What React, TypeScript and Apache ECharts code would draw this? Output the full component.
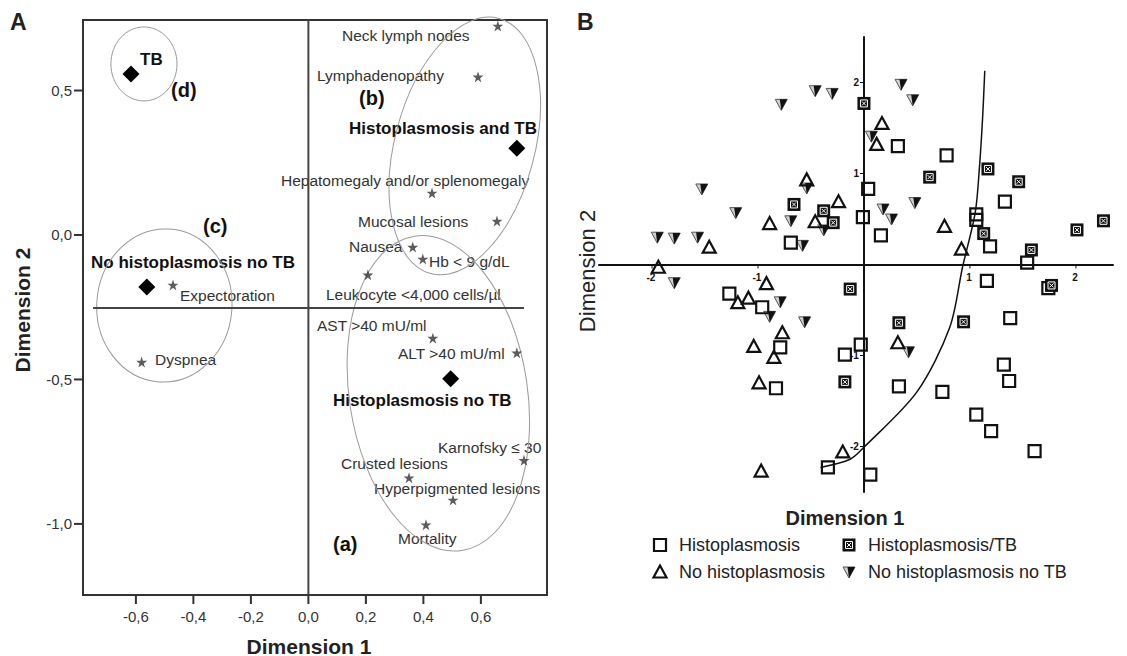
import React, { useEffect, useRef } from 'react';
import * as echarts from 'echarts';

// ---------- Panel A: correspondence analysis ----------
const groupNames = ['TB', 'No histoplasmosis no TB', 'Histoplasmosis and TB', 'Histoplasmosis no TB'];
const groupDim1 = [-0.617, -0.562, 0.725, 0.495];
const groupDim2 = [0.557, -0.18, 0.3, -0.498];

const varNames = [
  'Neck lymph nodes', 'Lymphadenopathy', 'Hepatomegaly and/or splenomegaly', 'Mucosal lesions',
  'Nausea', 'Hb < 9 g/dL', 'Leukocyte <4,000 cells/µl', 'Expectoration', 'Dyspnea',
  'AST >40 mU/ml', 'ALT >40 mU/ml', 'Karnofsky ≤ 30', 'Crusted lesions', 'Hyperpigmented lesions', 'Mortality',
];
const varDim1 = [0.659, 0.59, 0.43, 0.656, 0.363, 0.398, 0.207, -0.471, -0.58, 0.433, 0.725, 0.75, 0.35, 0.503, 0.409];
const varDim2 = [0.723, 0.547, 0.145, 0.048, -0.042, -0.083, -0.138, -0.173, -0.44, -0.357, -0.408, -0.78, -0.84, -0.917, -1.003];

const ticksAX = [-0.6, -0.4, -0.2, 0, 0.2, 0.4, 0.6];
const ticksAY = [-1, -0.5, 0, 0.5];
const rangeAX = [-0.784, 0.83];
const rangeAY = [-1.246, 0.744];

// reference lines of panel A
const refH = { y: -0.253, from: -0.749, to: 0.75 };

// cluster ellipses (a), (b), (c), (d)
const ellCx = [0.452, 0.544, -0.501, -0.572];
const ellCy = [-0.548, 0.308, -0.244, 0.592];
const ellRx = [0.31, 0.243, 0.235, 0.115];
const ellRy = [0.55, 0.457, 0.265, 0.128];
const ellRot = [8.5, -15, -4, 0];

// ---------- Panel B: patients ----------
const histoX = [-0.69, -0.01, 0.32, 0.78, 0.04, 1.33, 1.06, 1.06, 0.16, 1.19, 1.54, -1.27, -0.96, -0.79, -0.03, -0.18, -0.83, -0.34, 1.16, 1.74, 1.38, 0.33, 0.74, 1.32, 1.37, 1.06, 1.2, 1.61, 0.06];
const histoY = [0.24, 0.52, 1.3, 1.2, 0.83, 0.69, 0.55, 0.49, 0.32, 0.2, 0.02, -0.32, -0.47, -0.91, -0.88, -0.99, -1.36, -2.23, -0.18, -0.26, -0.59, -1.34, -1.4, -1.1, -1.28, -1.65, -1.83, -2.05, -2.31];

const histoTBX = [-0.66, -0.38, -0.29, 0.0, 0.62, 1.17, 1.46, 1.13, 2.01, 2.26, 1.58, -0.13, -0.18, 1.77, 0.33, 0.94];
const histoTBY = [0.66, 0.59, 0.46, 1.77, 0.96, 1.05, 0.91, 0.34, 0.38, 0.48, 0.16, -0.27, -1.29, -0.23, -0.64, -0.63];

const noHistoX = [-1.46, -1.94, -0.54, -0.24, -0.89, -0.46, 0.17, 0.12, 0.76, 0.92, -0.92, -1.19, -1.09, -0.77, -1.04, -0.85, -0.99, -0.2, -0.97, 0.32];
const noHistoY = [0.19, -0.03, 0.93, 0.69, 0.45, 0.47, 1.55, 1.32, 0.42, 0.17, -0.21, -0.42, -0.37, -0.75, -0.9, -1.02, -1.3, -2.06, -2.27, -0.86];

const noHistoNoTBX = [-0.78, -0.46, -0.3, -1.53, -1.21, -1.95, -1.79, -1.57, -0.54, -0.69, -0.38, -0.58, 0.35, 0.46, 0.07, 0.18, 0.26, 0.48, -1.79, -0.79, -0.89, -0.56, 0.42];
const noHistoNoTBY = [1.76, 1.91, 1.88, 0.83, 0.57, 0.3, 0.29, 0.3, 0.84, 0.48, 0.38, 0.21, 1.98, 1.81, 1.41, 0.61, 0.5, 0.68, -0.2, -0.41, -0.57, -0.63, -0.96];

const curveX = [-0.41, -0.13, -0.01, 0.5, 0.81, 0.93, 1.05, 1.09, 1.12, 1.14];
const curveY = [-2.23, -2.14, -2.02, -1.4, -0.69, -0.03, 0.57, 1.07, 1.62, 2.13];

const ticksB = [-2, -1, 1, 2];
const rangeBX = [-2.5, 2.35];
const rangeBY = [-2.5, 2.5];

const legendB = [
  { kind: 'sq', text: 'Histoplasmosis' },
  { kind: 'sqx', text: 'Histoplasmosis/TB' },
  { kind: 'tri', text: 'No histoplasmosis' },
  { kind: 'inv', text: 'No histoplasmosis no TB' },
];

const FONT = '"Liberation Sans", Arial, Helvetica, sans-serif';
const STAR = 'path://M50,0L61.2,34.5L97.6,34.5L68.2,55.9L79.4,90.5L50,69.1L20.6,90.5L31.8,55.9L2.4,34.5L38.8,34.5Z';

// label layout for panel A (pixel anchors: left x, middle y)
const labelsA: { t: string; x: number; y: number; w: 'n' | 'b' | 'L' }[] = [
  { t: 'TB', x: 140, y: 59, w: 'b' },
  { t: '(d)', x: 171, y: 90, w: 'L' },
  { t: '(c)', x: 203, y: 226, w: 'L' },
  { t: 'No histoplasmosis no TB', x: 91, y: 262, w: 'b' },
  { t: 'Expectoration', x: 180, y: 295, w: 'n' },
  { t: 'Dyspnea', x: 155, y: 359, w: 'n' },
  { t: 'Neck lymph nodes', x: 342, y: 35, w: 'n' },
  { t: 'Lymphadenopathy', x: 317, y: 75, w: 'n' },
  { t: '(b)', x: 359, y: 98, w: 'L' },
  { t: 'Histoplasmosis and TB', x: 349, y: 128, w: 'b' },
  { t: 'Hepatomegaly and/or splenomegaly', x: 281, y: 180, w: 'n' },
  { t: 'Mucosal lesions', x: 358, y: 221, w: 'n' },
  { t: 'Nausea', x: 349, y: 246, w: 'n' },
  { t: 'Hb < 9 g/dL', x: 429, y: 261, w: 'n' },
  { t: 'Leukocyte <4,000 cells/µl', x: 326, y: 294, w: 'n' },
  { t: 'AST >40 mU/ml', x: 317, y: 325, w: 'n' },
  { t: 'ALT >40 mU/ml', x: 398, y: 353, w: 'n' },
  { t: 'Histoplasmosis no TB', x: 333, y: 400, w: 'b' },
  { t: 'Karnofsky ≤ 30', x: 438, y: 447, w: 'n' },
  { t: 'Crusted lesions', x: 341, y: 463, w: 'n' },
  { t: 'Hyperpigmented lesions', x: 374, y: 488, w: 'n' },
  { t: 'Mortality', x: 398, y: 538, w: 'n' },
  { t: '(a)', x: 333, y: 544, w: 'L' },
];

function marker(kind: string, x: number, y: number): any {
  if (kind === 'sq') {
    return { type: 'rect', shape: { x: x - 6, y: y - 6, width: 12, height: 12 }, style: { fill: 'none', stroke: '#111', lineWidth: 2.2 } };
  }
  if (kind === 'sqx') {
    return {
      type: 'group',
      children: [
        { type: 'rect', shape: { x: x - 6.5, y: y - 6.5, width: 13, height: 13 }, style: { fill: '#111' } },
        { type: 'rect', shape: { x: x - 3.5, y: y - 3.5, width: 7, height: 7 }, style: { fill: 'none', stroke: '#fff', lineWidth: 1 } },
        { type: 'line', shape: { x1: x - 2, y1: y - 2, x2: x + 2, y2: y + 2 }, style: { stroke: '#fff', lineWidth: 1 } },
        { type: 'line', shape: { x1: x + 2, y1: y - 2, x2: x - 2, y2: y + 2 }, style: { stroke: '#fff', lineWidth: 1 } },
      ],
    };
  }
  if (kind === 'tri') {
    return {
      type: 'polygon',
      shape: { points: [[x, y - 6.5], [x + 6.5, y + 5.5], [x - 6.5, y + 5.5]] },
      style: { fill: 'none', stroke: '#111', lineWidth: 2.2 },
    };
  }
  return {
    type: 'group',
    children: [
      { type: 'polygon', shape: { points: [[x - 6, y - 5], [x + 6, y - 5], [x, y + 6]] }, style: { fill: '#d0d0d0', stroke: '#555', lineWidth: 1 } },
      { type: 'polygon', shape: { points: [[x - 1.5, y - 5], [x + 6, y - 5], [x, y + 6]] }, style: { fill: '#111' } },
    ],
  };
}

function markerSeries(kind: string, xs: number[], ys: number[]) {
  return {
    type: 'custom',
    coordinateSystem: 'cartesian2d',
    xAxisIndex: 1,
    yAxisIndex: 1,
    silent: true,
    clip: false,
    data: xs.map((x, i) => [x, ys[i]]),
    renderItem: (params: any, api: any) => {
      const p = api.coord([api.value(0), api.value(1)]);
      return marker(kind, p[0], p[1]);
    },
  };
}

// tick marks + labels for panel B, placed on the zero lines through the axes' scales
function tickSeriesB(dir: 'x' | 'y') {
  return {
    type: 'custom',
    coordinateSystem: 'cartesian2d',
    xAxisIndex: 1,
    yAxisIndex: 1,
    silent: true,
    clip: false,
    data: ticksB.map((v) => (dir === 'x' ? [v, 0] : [0, v])),
    renderItem: (params: any, api: any) => {
      const p = api.coord([api.value(0), api.value(1)]);
      const v = dir === 'x' ? api.value(0) : api.value(1);
      if (dir === 'x') {
        return {
          type: 'group',
          children: [
            { type: 'rect', shape: { x: p[0] - 0.5, y: p[1], width: 1, height: 4 }, style: { fill: '#111' } },
            { type: 'text', x: p[0] - 1, y: p[1] + 8, style: { text: String(v), fontSize: 10, fontWeight: 'bold', fontFamily: FONT, fill: '#111', align: 'center', verticalAlign: 'top' } },
          ],
        };
      }
      return {
        type: 'group',
        children: [
          { type: 'rect', shape: { x: p[0] - 4, y: p[1] - 0.5, width: 4, height: 1 }, style: { fill: '#111' } },
          { type: 'text', x: p[0] - 5, y: p[1], style: { text: String(v), fontSize: 10, fontWeight: 'bold', fontFamily: FONT, fill: '#111', align: 'right', verticalAlign: 'middle' } },
        ],
      };
    },
  };
}

// outward tick marks on panel A's frame (rects), positioned through the axes' scales
function tickSeriesA(dir: 'x' | 'y') {
  const vals = dir === 'x' ? ticksAX : ticksAY;
  return {
    type: 'custom',
    coordinateSystem: 'cartesian2d',
    xAxisIndex: 0,
    yAxisIndex: 0,
    silent: true,
    clip: false,
    z: 10,
    data: vals.map((v) => (dir === 'x' ? [v, 0] : [0, v])),
    renderItem: (params: any, api: any) => {
      const v = api.value(dir === 'x' ? 0 : 1);
      const p = dir === 'x' ? api.coord([v, rangeAY[0]]) : api.coord([rangeAX[0], v]);
      const shape = dir === 'x'
        ? { x: p[0] - 1, y: p[1], width: 2, height: 9 }
        : { x: p[0] - 9, y: p[1] - 1, width: 9, height: 2 };
      return { type: 'group', children: [{ type: 'rect', shape, style: { fill: '#333' } }] };
    },
  };
}

const fmtA = (v: number) => v.toFixed(1).replace('.', ',');

function txt(text: string, x: number, y: number, size: number, bold: boolean, extra: any = {}, align = 'left') {
  return {
    type: 'text', x, y, ...extra,
    style: { text, fontSize: size, fontWeight: bold ? 'bold' : 'normal', fontFamily: FONT, fill: '#222', align, verticalAlign: 'middle' },
  };
}

export default function App() {
  const ref = useRef<HTMLDivElement>(null);
  useEffect(() => {
    if (!ref.current) return;
    const chart = echarts.init(ref.current, null, { renderer: 'svg' });

    const graphics: any[] = [];
    graphics.push(txt('A', 10, 22, 23, true));
    graphics.push(txt('B', 577, 22, 23, true));
    graphics.push(txt('Dimension 1', 309, 646, 21, true, {}, 'center'));
    graphics.push(txt('Dimension 2', 22, 310, 21, true, { rotation: Math.PI / 2 }, 'center'));
    graphics.push(txt('Dimension 1', 845, 518, 20, true, {}, 'center'));
    graphics.push(txt('Dimension 2', 587, 271, 22, false, { rotation: Math.PI / 2 }, 'center'));

    labelsA.forEach((l) => {
      const size = l.w === 'L' ? 20 : l.w === 'b' ? 17 : 15.5;
      const el: any = txt(l.t, l.x, l.y, size, l.w !== 'n');
      el.style.fill = l.w === 'n' ? '#333' : '#111';
      graphics.push(el);
    });

    const legX = [660, 849];
    const legTextX = [679, 868];
    const legY = [545, 572];
    legendB.forEach((it, i) => {
      const col = i % 2;
      const row = Math.floor(i / 2);
      graphics.push(marker(it.kind, legX[col], legY[row]));
      graphics.push(txt(it.text, legTextX[col], legY[row], 18, false));
    });

    const option: any = {
      animation: false,
      textStyle: { fontFamily: FONT },
      grid: [
        { left: 83, top: 20, width: 464, height: 575, show: true, borderColor: '#333', borderWidth: 2, backgroundColor: 'transparent' },
        { left: 599, top: 37, width: 514, height: 455, show: false },
      ],
      xAxis: [
        {
          gridIndex: 0, type: 'value', min: rangeAX[0], max: rangeAX[1], position: 'bottom',
          splitLine: { show: false }, axisLine: { show: false, onZero: false },
          axisTick: { show: false },
          axisLabel: { customValues: ticksAX, formatter: fmtA, fontSize: 15, color: '#333', margin: 14 },
        },
        {
          gridIndex: 1, type: 'value', min: rangeBX[0], max: rangeBX[1],
          splitLine: { show: false },
          axisLine: { show: true, onZero: true, lineStyle: { color: '#111', width: 2 } },
          axisTick: { show: false },
          axisLabel: { show: false },
        },
      ],
      yAxis: [
        {
          gridIndex: 0, type: 'value', min: rangeAY[0], max: rangeAY[1], position: 'left',
          splitLine: { show: false }, axisLine: { show: false, onZero: false },
          axisTick: { show: false },
          axisLabel: { customValues: ticksAY, formatter: fmtA, fontSize: 15, color: '#333', margin: 11 },
        },
        {
          gridIndex: 1, type: 'value', min: rangeBY[0], max: rangeBY[1],
          splitLine: { show: false },
          axisLine: { show: true, onZero: true, lineStyle: { color: '#111', width: 2 } },
          axisTick: { show: false },
          axisLabel: { show: false },
        },
      ],
      series: [
        {
          type: 'line', xAxisIndex: 0, yAxisIndex: 0, symbol: 'none', silent: true,
          lineStyle: { color: '#444', width: 2 },
          data: [[0, rangeAY[0]], [0, rangeAY[1]]],
        },
        {
          type: 'line', xAxisIndex: 0, yAxisIndex: 0, symbol: 'none', silent: true,
          lineStyle: { color: '#444', width: 2 },
          data: [[refH.from, refH.y], [refH.to, refH.y]],
        },
        tickSeriesA('x'),
        tickSeriesA('y'),
        {
          type: 'custom', coordinateSystem: 'cartesian2d', xAxisIndex: 0, yAxisIndex: 0, silent: true, clip: false,
          data: ellCx.map((x, i) => [x, ellCy[i]]),
          renderItem: (params: any, api: any) => {
            const i = params.dataIndex;
            const c = api.coord([ellCx[i], ellCy[i]]);
            const s = api.size([ellRx[i], ellRy[i]]);
            return {
              type: 'ellipse', x: c[0], y: c[1], rotation: (ellRot[i] * Math.PI) / 180,
              shape: { cx: 0, cy: 0, rx: s[0], ry: s[1] },
              style: { fill: 'none', stroke: '#9a9a9a', lineWidth: 1 },
            };
          },
        },
        {
          type: 'scatter', xAxisIndex: 0, yAxisIndex: 0, symbol: STAR, symbolSize: 11, silent: true,
          itemStyle: { color: '#333' },
          data: varDim1.map((x, i) => ({ name: varNames[i], value: [x, varDim2[i]] })),
        },
        {
          type: 'scatter', xAxisIndex: 0, yAxisIndex: 0, symbol: 'diamond', symbolSize: 17, silent: true,
          itemStyle: { color: '#000', opacity: 1 },
          data: groupDim1.map((x, i) => ({ name: groupNames[i], value: [x, groupDim2[i]] })),
        },
        {
          type: 'line', xAxisIndex: 1, yAxisIndex: 1, symbol: 'none', smooth: 0.3, silent: true,
          lineStyle: { color: '#111', width: 1.5 },
          data: curveX.map((x, i) => [x, curveY[i]]),
        },
        tickSeriesB('x'),
        tickSeriesB('y'),
        markerSeries('inv', noHistoNoTBX, noHistoNoTBY),
        markerSeries('tri', noHistoX, noHistoY),
        markerSeries('sq', histoX, histoY),
        markerSeries('sqx', histoTBX, histoTBY),
      ],
      graphic: graphics,
    };
    chart.setOption(option);
    return () => chart.dispose();
  }, []);
  return <div ref={ref} style={{ position: 'absolute', left: 0, top: 0, width: 1127, height: 656, background: '#fff' }} />;
}
